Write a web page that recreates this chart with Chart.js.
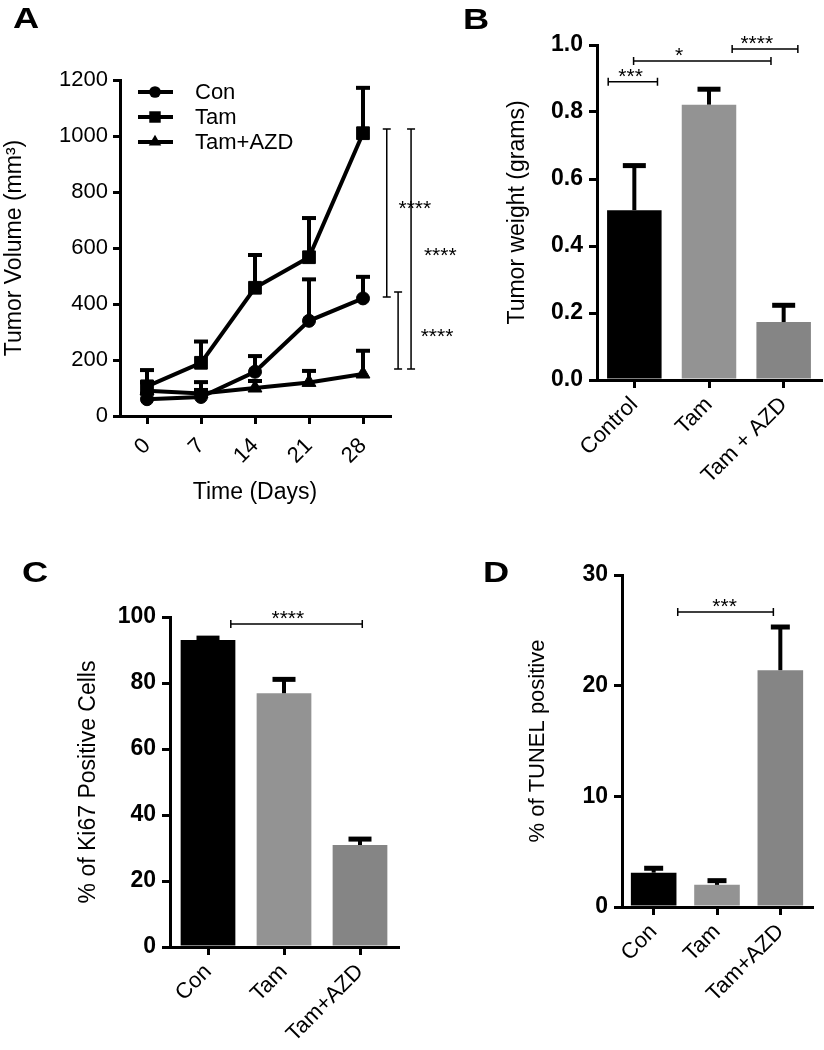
<!DOCTYPE html>
<html>
<head>
<meta charset="utf-8">
<script src="https://cdn.jsdelivr.net/npm/chart.js@4.4.1/dist/chart.umd.min.js"></script>
<style>
  html, body { margin: 0; padding: 0; background: #fff; }
  #fig { position: relative; width: 824px; height: 1050px; overflow: hidden; background: #fff; }
  #fig canvas { position: absolute; }
  .panel { position: absolute; font: bold 29px "Liberation Sans", Arial, sans-serif; line-height: 1; color: #000;
           transform: scaleX(1.25); transform-origin: left top; }
</style>
</head>
<body>
<div id="fig">
  <canvas id="chartA" width="470" height="520" style="left:0;top:0"></canvas>
  <canvas id="chartB" width="404" height="520" style="left:420px;top:0"></canvas>
  <canvas id="chartC" width="420" height="530" style="left:0;top:520px"></canvas>
  <canvas id="chartD" width="404" height="530" style="left:420px;top:520px"></canvas>
  <div class="panel" style="left:13px;top:4px">A</div>
  <div class="panel" style="left:463px;top:5px">B</div>
  <div class="panel" style="left:22px;top:558px">C</div>
  <div class="panel" style="left:483px;top:558px">D</div>
</div>
<script>
"use strict";

// panel A - tumor volume
var days = ['0', '7', '14', '21', '28'];
var conVolume = [60, 68, 158, 340, 420];
var conVolumeSem = [20, 25, 56, 148, 77];
var tamVolume = [106, 190, 458, 567, 1010];
var tamVolumeSem = [58, 76, 117, 140, 162];
var azdVolume = [90, 80, 100, 120, 150];
var azdVolumeSem = [30, 41, 25, 41, 83];
// [x (category index), from, to, label, label x, label y]
var volumeSig = [
    [4.44, 425, 1025, '****', 4.96, 754],
    [4.65, 168, 443, '****', 5.37, 296],
    [4.89, 168, 1025, '****', 5.43, 586]
];

// panel B - tumor weight
var weightGroups = ['Control', 'Tam', 'Tam + AZD'];
var weightMean = [0.507, 0.822, 0.173];
var weightSem = [0.133, 0.046, 0.05];
// [from, to, y, label, label x]
var weightSig = [
    [-0.35, 0.31, 0.89, '***', -0.05],
    [-0.01, 1.83, 0.952, '*', 0.6],
    [1.31, 2.19, 0.988, '****', 1.64]
];

// panels C and D
var groups = ['Con', 'Tam', 'Tam+AZD'];
var ki67Mean = [93.0, 76.9, 30.9];
var ki67Sem = [0.6, 4.2, 1.8];
var ki67Sig = [[0.30, 2.03, 97.9, '****', 1.05]];
var tunelMean = [3.1, 2.0, 21.4];
var tunelSem = [0.4, 0.38, 3.9];
var tunelSig = [[0.38, 1.89, 26.66, '***', 1.12]];

var barColors = ['#000000', '#939393', '#858585'];
var FONT = '"Liberation Sans", Arial, Helvetica, sans-serif';

function yScale(max, step, width, bold, title, titleSize, fmt) {
    return {
        min: 0,
        max: max,
        ticks: {
            stepSize: step,
            color: '#000',
            padding: 6,
            font: { family: FONT, size: bold ? 23 : 22, weight: bold ? 'bold' : 'normal' },
            callback: fmt || function (v) { return String(v); }
        },
        grid: { display: true, drawOnChartArea: false, drawTicks: true, tickLength: 8, color: '#000', lineWidth: 3 },
        border: { display: true, color: '#000', width: 3 },
        title: { display: true, text: title, color: '#000', padding: { top: 4, bottom: 4 },
                 font: { family: FONT, size: titleSize } },
        afterFit: function (s) { s.width = width; }
    };
}

function xScale(height, title, pad) {
    var sc = {
        offset: true,
        ticks: {
            color: '#000', autoSkip: false, minRotation: 45, maxRotation: 45, padding: pad || 4,
            font: { family: FONT, size: 22 }
        },
        grid: { display: true, drawOnChartArea: false, offset: false, drawTicks: true, tickLength: 8, color: '#000', lineWidth: 3 },
        border: { display: true, color: '#000', width: 3 },
        afterFit: function (s) { s.height = height; }
    };
    if (title) {
        sc.title = { display: true, text: title, color: '#000', padding: { top: 4, bottom: 4 },
                     font: { family: FONT, size: 23 } };
    }
    return sc;
}

function drawBracketH(ctx, x1, x2, y) {
    ctx.lineWidth = 1.5;
    ctx.beginPath();
    ctx.moveTo(x1, y); ctx.lineTo(x2, y);
    ctx.moveTo(x1, y - 4); ctx.lineTo(x1, y + 4);
    ctx.moveTo(x2, y - 4); ctx.lineTo(x2, y + 4);
    ctx.stroke();
}

// error bars + significance bars for the bar panels
var barMarks = {
    id: 'barMarks',
    afterDatasetsDraw: function (chart, args, opts) {
        var ctx = chart.ctx, xs = chart.scales.x, ys = chart.scales.y;
        var meta = chart.getDatasetMeta(0);
        var data = chart.data.datasets[0].data;
        ctx.save();
        ctx.strokeStyle = '#000';
        ctx.fillStyle = '#000';
        ctx.lineCap = 'butt';
        opts.sem.forEach(function (e, i) {
            var bar = meta.data[i];
            var top = ys.getPixelForValue(data[i] + e);
            ctx.lineWidth = 4;
            ctx.beginPath(); ctx.moveTo(bar.x, bar.y); ctx.lineTo(bar.x, top); ctx.stroke();
            ctx.lineWidth = 5;
            ctx.beginPath(); ctx.moveTo(bar.x - opts.cap / 2, top); ctx.lineTo(bar.x + opts.cap / 2, top); ctx.stroke();
        });
        ctx.font = '21px ' + FONT;
        ctx.textAlign = 'center';
        ctx.textBaseline = 'alphabetic';
        opts.sig.forEach(function (s) {
            var yy = ys.getPixelForValue(s[2]);
            drawBracketH(ctx, xs.getPixelForValue(s[0]), xs.getPixelForValue(s[1]), yy);
            ctx.fillText(s[3], xs.getPixelForValue(s[4]), yy + 1);
        });
        ctx.restore();
    }
};

// error bars, legend and significance for the line panel
var lineMarks = {
    id: 'lineMarks',
    afterDatasetsDraw: function (chart, args, opts) {
        var ctx = chart.ctx, xs = chart.scales.x, ys = chart.scales.y;
        var area = chart.chartArea;
        ctx.save();
        ctx.strokeStyle = '#000';
        ctx.fillStyle = '#000';
        chart.data.datasets.forEach(function (ds, d) {
            var meta = chart.getDatasetMeta(d);
            opts.sem[d].forEach(function (e, i) {
                var pt = meta.data[i];
                var top = ys.getPixelForValue(ds.data[i] + e);
                ctx.lineWidth = 4;
                ctx.beginPath(); ctx.moveTo(pt.x, pt.y); ctx.lineTo(pt.x, top); ctx.stroke();
                ctx.beginPath(); ctx.moveTo(pt.x - 7, top); ctx.lineTo(pt.x + 7, top); ctx.stroke();
            });
        });

        // legend
        ctx.font = '22px ' + FONT;
        ctx.textAlign = 'left';
        ctx.textBaseline = 'middle';
        chart.data.datasets.forEach(function (ds, d) {
            var ly = area.top + 12 + d * 25;
            var lx = area.left + 18;
            ctx.lineWidth = 4;
            ctx.beginPath(); ctx.moveTo(lx, ly); ctx.lineTo(lx + 35, ly); ctx.stroke();
            Chart.helpers.drawPoint(ctx, { pointStyle: ds.pointStyle, radius: ds.pointRadius * 0.9, rotation: 0, borderWidth: 0 }, lx + 17, ly);
            ctx.fillText(ds.label, lx + 57, ly + 1);
        });

        // significance
        ctx.font = '21px ' + FONT;
        ctx.textAlign = 'center';
        ctx.textBaseline = 'alphabetic';
        opts.sig.forEach(function (s) {
            var x = xs.getPixelForValue(s[0]);
            var y1 = ys.getPixelForValue(s[1]), y2 = ys.getPixelForValue(s[2]);
            ctx.lineWidth = 1.5;
            ctx.beginPath();
            ctx.moveTo(x, y1); ctx.lineTo(x, y2);
            ctx.moveTo(x - 4, y1); ctx.lineTo(x + 4, y1);
            ctx.moveTo(x - 4, y2); ctx.lineTo(x + 4, y2);
            ctx.stroke();
            ctx.fillText(s[3], xs.getPixelForValue(s[4]), ys.getPixelForValue(s[5]) + 10);
        });
        ctx.restore();
    }
};

var common = {
    responsive: false,
    animation: false,
    events: []
};

// chart A
new Chart(document.getElementById('chartA').getContext('2d'), {
    type: 'line',
    data: {
        labels: days,
        datasets: [
            { label: 'Con', data: conVolume, pointStyle: 'circle', pointRadius: 6.5 },
            { label: 'Tam', data: tamVolume, pointStyle: 'rect', pointRadius: 9 },
            { label: 'Tam+AZD', data: azdVolume, pointStyle: 'triangle', pointRadius: 8 }
        ].map(function (ds) {
            ds.borderColor = '#000';
            ds.backgroundColor = '#000';
            ds.pointBackgroundColor = '#000';
            ds.pointBorderColor = '#000';
            ds.pointBorderWidth = 1;
            ds.borderWidth = 4;
            ds.tension = 0;
            return ds;
        })
    },
    options: Object.assign({}, common, {
        layout: { padding: { left: 0, top: 80, right: 80, bottom: 10 } },
        scales: {
            x: xScale(94, 'Time (Days)', 9),
            y: (function () {
                var s = yScale(1200, 200, 120, false, 'Tumor Volume (mm\u00b3)', 23);
                s.ticks.padding = 5;
                s.grid.tickLength = 7;
                s.title.padding = { top: 1, bottom: 4 };
                return s;
            })()
        },
        plugins: {
            legend: { display: false },
            tooltip: { enabled: false },
            lineMarks: { sem: [conVolumeSem, tamVolumeSem, azdVolumeSem], sig: volumeSig }
        }
    }),
    plugins: [lineMarks]
});

function barChart(id, labels, values, sem, sig, cap, pad, yOpt, xHeight, barPct) {
    return new Chart(document.getElementById(id).getContext('2d'), {
        type: 'bar',
        data: {
            labels: labels,
            datasets: [{
                data: values,
                backgroundColor: barColors,
                borderWidth: 0,
                categoryPercentage: 1,
                barPercentage: barPct
            }]
        },
        options: Object.assign({}, common, {
            layout: { padding: pad },
            scales: { x: xScale(xHeight), y: yOpt },
            plugins: {
                legend: { display: false },
                tooltip: { enabled: false },
                barMarks: { sem: sem, sig: sig, cap: cap }
            }
        }),
        plugins: [barMarks]
    });
}

barChart('chartB', weightGroups, weightMean, weightSem, weightSig, 23,
    { left: 80, top: 45, right: 3, bottom: 10 },
    yScale(1.0, 0.2, 97, true, 'Tumor weight (grams)', 23, function (v) { return v.toFixed(1); }),
    130, 0.73);

barChart('chartC', groups, ki67Mean, ki67Sem, ki67Sig, 23,
    { left: 71, top: 97, right: 22, bottom: 3 },
    yScale(100, 20, 99, true, '% of Ki67 Positive Cells', 23),
    100, 0.72);

barChart('chartD', groups, tunelMean, tunelSem, tunelSig, 19,
    { left: 101, top: 55, right: 12, bottom: 13 },
    yScale(30, 10, 101, true, '% of TUNEL positive', 22),
    130, 0.72);
</script>
</body>
</html>
